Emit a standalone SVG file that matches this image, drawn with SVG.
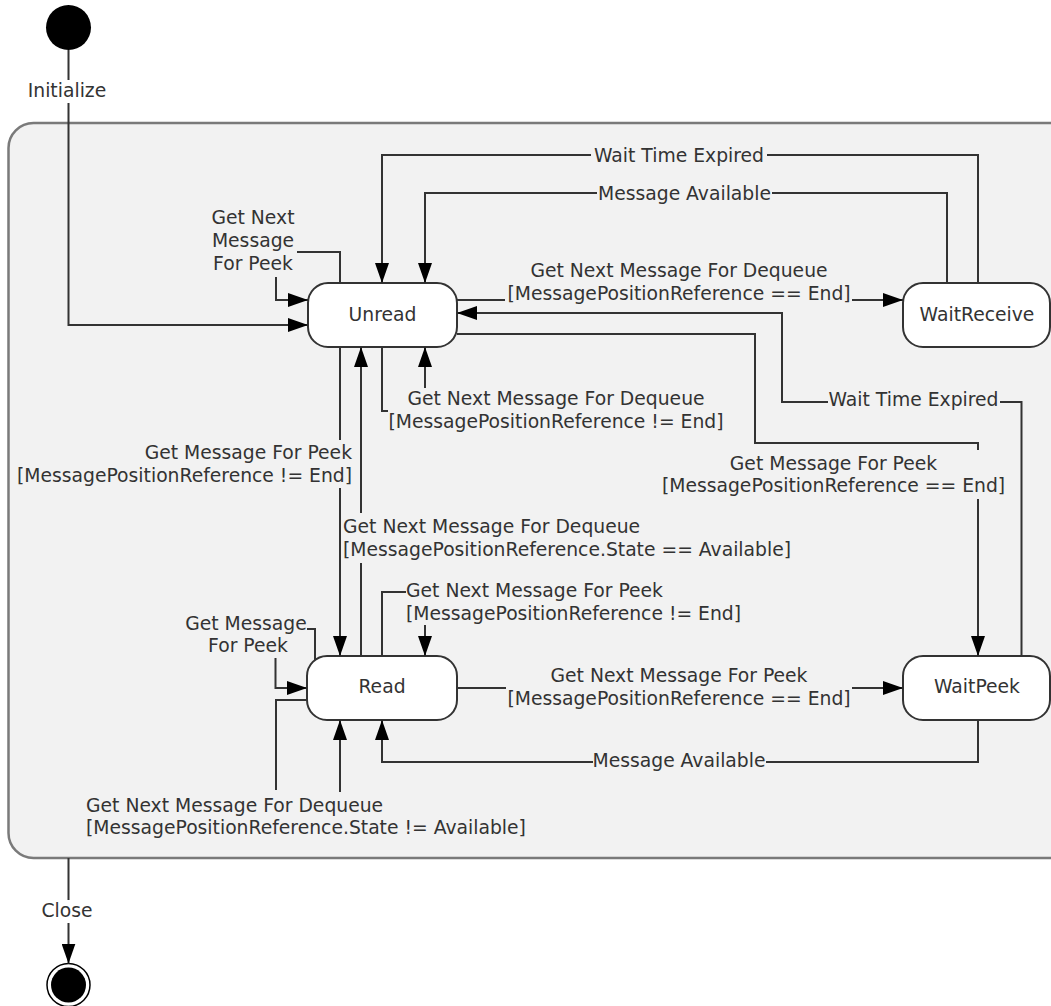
<svg xmlns="http://www.w3.org/2000/svg" width="1051" height="1006" viewBox="0 0 1051 1006">
<defs>
<style>
.t{font-family:"DejaVu Sans",Verdana,sans-serif;font-size:18.75px;fill:#333;}
.m{text-anchor:middle;}
.e{text-anchor:end;}
.c{fill:none;stroke:#333;stroke-width:2;marker-end:url(#ah);}
.n{fill:none;stroke:#333;stroke-width:2;}
.st{fill:#fff;stroke:#333;stroke-width:2;}
</style>
<marker id="ah" markerUnits="userSpaceOnUse" markerWidth="20" markerHeight="14" refX="20" refY="7" orient="auto">
<path d="M0,0 L20,7 L0,14 Z" fill="#000"/>
</marker>
</defs>
<rect width="1051" height="1006" fill="#fff"/>
<g id="composite">
<rect x="8.5" y="123" width="1080" height="735" rx="25" fill="#f2f2f2" stroke="#7a7a7a" stroke-width="2.5"/>
</g>
<g id="initial"><circle cx="68.5" cy="27.5" r="22.5" fill="#000"/></g>
<g id="final"><circle cx="68.5" cy="985" r="21.5" fill="#fff" stroke="#000" stroke-width="1.5"/><circle cx="68.5" cy="985" r="17.5" fill="#000"/></g>
<g id="unread"><rect class="st" x="308" y="283" width="149" height="64" rx="20"/><text class="t m" x="382.5" y="321">Unread</text></g>
<g id="waitreceive"><rect class="st" x="903" y="283" width="147" height="64" rx="20"/><text class="t m" x="977" y="321">WaitReceive</text></g>
<g id="read"><rect class="st" x="307" y="656" width="150" height="64" rx="20"/><text class="t m" x="382" y="693">Read</text></g>
<g id="waitpeek"><rect class="st" x="903" y="656" width="147" height="64" rx="20"/><text class="t m" x="977" y="693">WaitPeek</text></g>
<g id="connectors">
<path class="c" d="M68.5,50 V80 M68.5,103 V325 H308"/>
<text class="t m" x="67" y="97">Initialize</text>
<path class="c" d="M978,283 V155 H767 M591,155 H382 V283"/>
<text class="t m" x="679" y="162">Wait Time Expired</text>
<path class="c" d="M947,283 V193 H772 M597,193 H425 V283"/>
<text class="t m" x="684.5" y="200">Message Available</text>
<path class="c" d="M340,283 V252 H297 M276,277 V300 H308"/>
<text class="t m" x="253" y="224">Get Next</text>
<text class="t m" x="253" y="247">Message</text>
<text class="t m" x="253" y="270">For Peek</text>
<path class="c" d="M457,300 H505 M852,300 H903"/>
<text class="t m" x="679" y="277">Get Next Message For Dequeue</text>
<text class="t m" x="679" y="300">[MessagePositionReference == End]</text>
<path class="c" d="M1021.5,656 V402 H1000 M828,402 H782 V313 H457"/>
<text class="t m" x="913.5" y="406">Wait Time Expired</text>
<path class="c" d="M457,334 H755 V443 H978 V450 M978,499 V656"/>
<text class="t m" x="833.5" y="470">Get Message For Peek</text>
<text class="t m" x="833.5" y="492">[MessagePositionReference == End]</text>
<path class="c" d="M340,347 V440 M340,488 V656"/>
<text class="t e" x="352" y="459">Get Message For Peek</text>
<text class="t e" x="352" y="482">[MessagePositionReference != End]</text>
<path class="c" d="M361,656 V563 M361,513 V347"/>
<text class="t" x="343" y="533">Get Next Message For Dequeue</text>
<text class="t" x="343" y="556">[MessagePositionReference.State == Available]</text>
<path class="c" d="M382,347 V411 H388 M425,388 V347"/>
<text class="t m" x="556" y="405">Get Next Message For Dequeue</text>
<text class="t m" x="556" y="428">[MessagePositionReference != End]</text>
<path class="c" d="M382,656 V592 H406 M425,625 V656"/>
<text class="t" x="406" y="597">Get Next Message For Peek</text>
<text class="t" x="406" y="620">[MessagePositionReference != End]</text>
<path class="c" d="M315,660 V629 H307 M275.5,658 V688 H307"/>
<text class="t m" x="246" y="630">Get Message</text>
<text class="t m" x="248" y="652">For Peek</text>
<path class="c" d="M307,700 H276 V790 M340,792 V720"/>
<text class="t" x="86" y="812">Get Next Message For Dequeue</text>
<text class="t" x="86" y="834">[MessagePositionReference.State != Available]</text>
<path class="c" d="M457,688 H506 M852,688 H903"/>
<text class="t m" x="679" y="682">Get Next Message For Peek</text>
<text class="t m" x="679" y="705">[MessagePositionReference == End]</text>
<path class="c" d="M978,720 V762 H766 M593,762 H382 V720"/>
<text class="t m" x="679" y="767">Message Available</text>
<path class="c" d="M68.5,858 V900 M68.5,923 V963.5"/>
<text class="t m" x="67" y="917">Close</text>
</g>
</svg>
